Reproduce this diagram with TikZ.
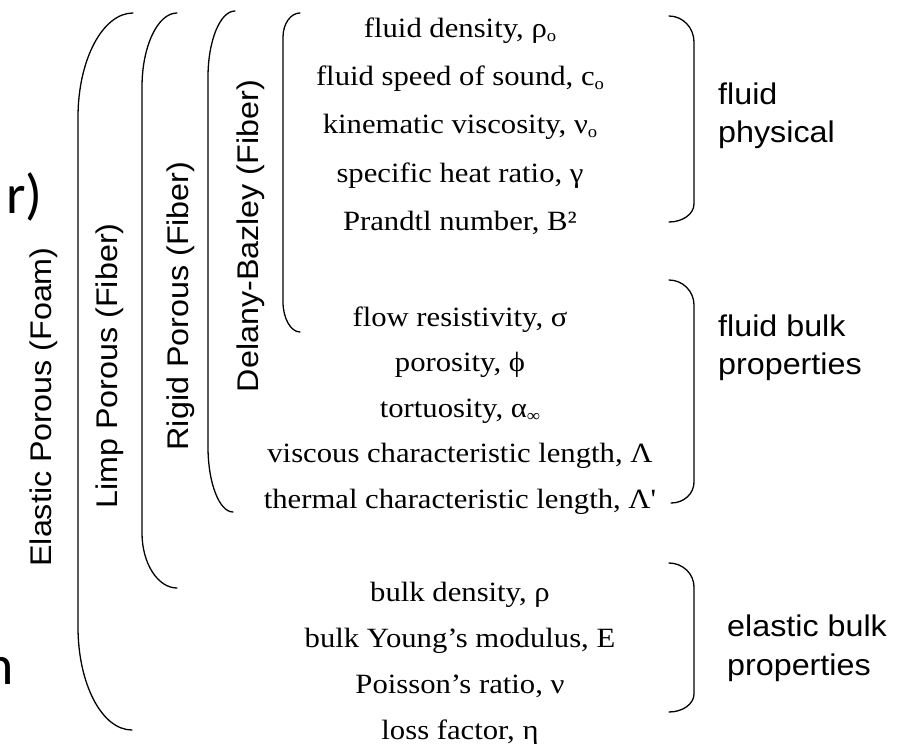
\documentclass[tikz,border=0pt]{standalone}
\usepackage{fontspec}
\setmainfont{Liberation Serif}
\newfontfamily\serifl[FakeStretch=1.1]{Liberation Serif}
\newfontfamily\sansl[FakeStretch=1.08]{Liberation Sans}
\newfontfamily\bigsans{Carlito}
\newcommand\lowidx[1]{\raisebox{-0.35ex}{\fontsize{17}{17}\selectfont #1}}
\begin{document}
\begin{tikzpicture}[x=1bp,y=-1bp,
  item/.style={font=\serifl\fontsize{28}{30}\selectfont, anchor=base, inner sep=0pt},
  lab/.style={font=\sansl\fontsize{30}{30}\selectfont, anchor=base west, inner sep=0pt},
  vlab/.style={font=\sansl\fontsize{30}{30}\selectfont, rotate=90, inner sep=0pt},
  cut/.style={font=\bigsans\fontsize{56}{56}\selectfont, anchor=base east, inner sep=0pt},
  brk/.style={line width=1.3bp, line cap=round, line join=round}]
\useasboundingbox (0,0) rectangle (899,744);
\clip (0,0) rectangle (899,744);

% cut-off text at the left edge
\node[cut] (cutA) at (43,213) {r)};
\node[cut] (cutB) at (14,684) {n};

% left brackets
\draw[brk] (133,13) .. controls (102.75,13) and (78,59.8) .. (78,117) -- (78,627)
  .. controls (78,683.65) and (101.75,730) .. (132,730);
\draw[brk] (177,13) .. controls (157.75,13) and (142,46.3) .. (142,87) -- (142,533)
  .. controls (142,563.25) and (157.75,588) .. (177,588);
\draw[brk] (235,11) .. controls (220.15,11) and (208,40.7) .. (208,77) -- (208,447)
  .. controls (208,482.75) and (219.25,512) .. (233,512);
\draw[brk] (300,13) .. controls (290.65,13) and (283,23.8) .. (283,37) -- (283,302)
  .. controls (283,318) and (290.65,332) .. (300,332);

% vertical labels
\node[vlab] (elastic) at (44,407) {Elastic Porous (Foam)};
\node[vlab] (limp) at (110,366) {Limp Porous (Fiber)};
\node[vlab] (rigid) at (181,306) {Rigid Porous (Fiber)};
\node[vlab] (delany) at (251,236) {Delany-Bazley (Fiber)};

% fluid physical parameters
\node[item] (p1) at (460,37.5) {fluid density, ρ\lowidx{o}};
\node[item] (p2) at (460,85.5) {fluid speed of sound, c\lowidx{o}};
\node[item] (p3) at (460,133.5) {kinematic viscosity, ν\lowidx{o}};
\node[item] (p4) at (460,182) {specific heat ratio, γ};
\node[item] (p5) at (460,230.5) {Prandtl number, B²};

% fluid bulk properties
\node[item] (b1) at (460,326) {flow resistivity, σ};
\node[item] (b2) at (460,371) {porosity, ϕ};
\node[item] (b3) at (460,417) {tortuosity, α\lowidx{∞}};
\node[item] (b4) at (460,462) {viscous characteristic length, Λ};
\node[item] (b5) at (460,508) {thermal characteristic length, Λ'};

% elastic bulk properties
\node[item] (e1) at (460,601) {bulk density, ρ};
\node[item] (e2) at (460,647) {bulk Young’s modulus, E};
\node[item] (e3) at (460,693) {Poisson’s ratio, ν};
\node[item] (e4) at (460,739) {loss factor, η};

% right brackets
\draw[brk] (669,16) .. controls (682.75,16) and (694,27.7) .. (694,42) -- (694,204)
  .. controls (694,213.9) and (682.75,222) .. (669,222);
\draw[brk] (669,280) .. controls (682.75,280) and (694,291.25) .. (694,305) -- (694,482)
  .. controls (694,493.55) and (684.1,503) .. (671,503);
\draw[brk] (669,563) .. controls (682.75,563) and (694,573.8) .. (694,587) -- (694,694)
  .. controls (694,703.9) and (682.75,712) .. (669,712);

% right labels
\node[lab] (r1a) at (718,104) {fluid};
\node[lab] (r1b) at (718,142) {physical};
\node[lab] (r2a) at (718,336) {fluid bulk};
\node[lab] (r2b) at (718,374) {properties};
\node[lab] (r3a) at (727,636) {elastic bulk};
\node[lab] (r3b) at (727,675) {properties};
\end{tikzpicture}
\end{document}
